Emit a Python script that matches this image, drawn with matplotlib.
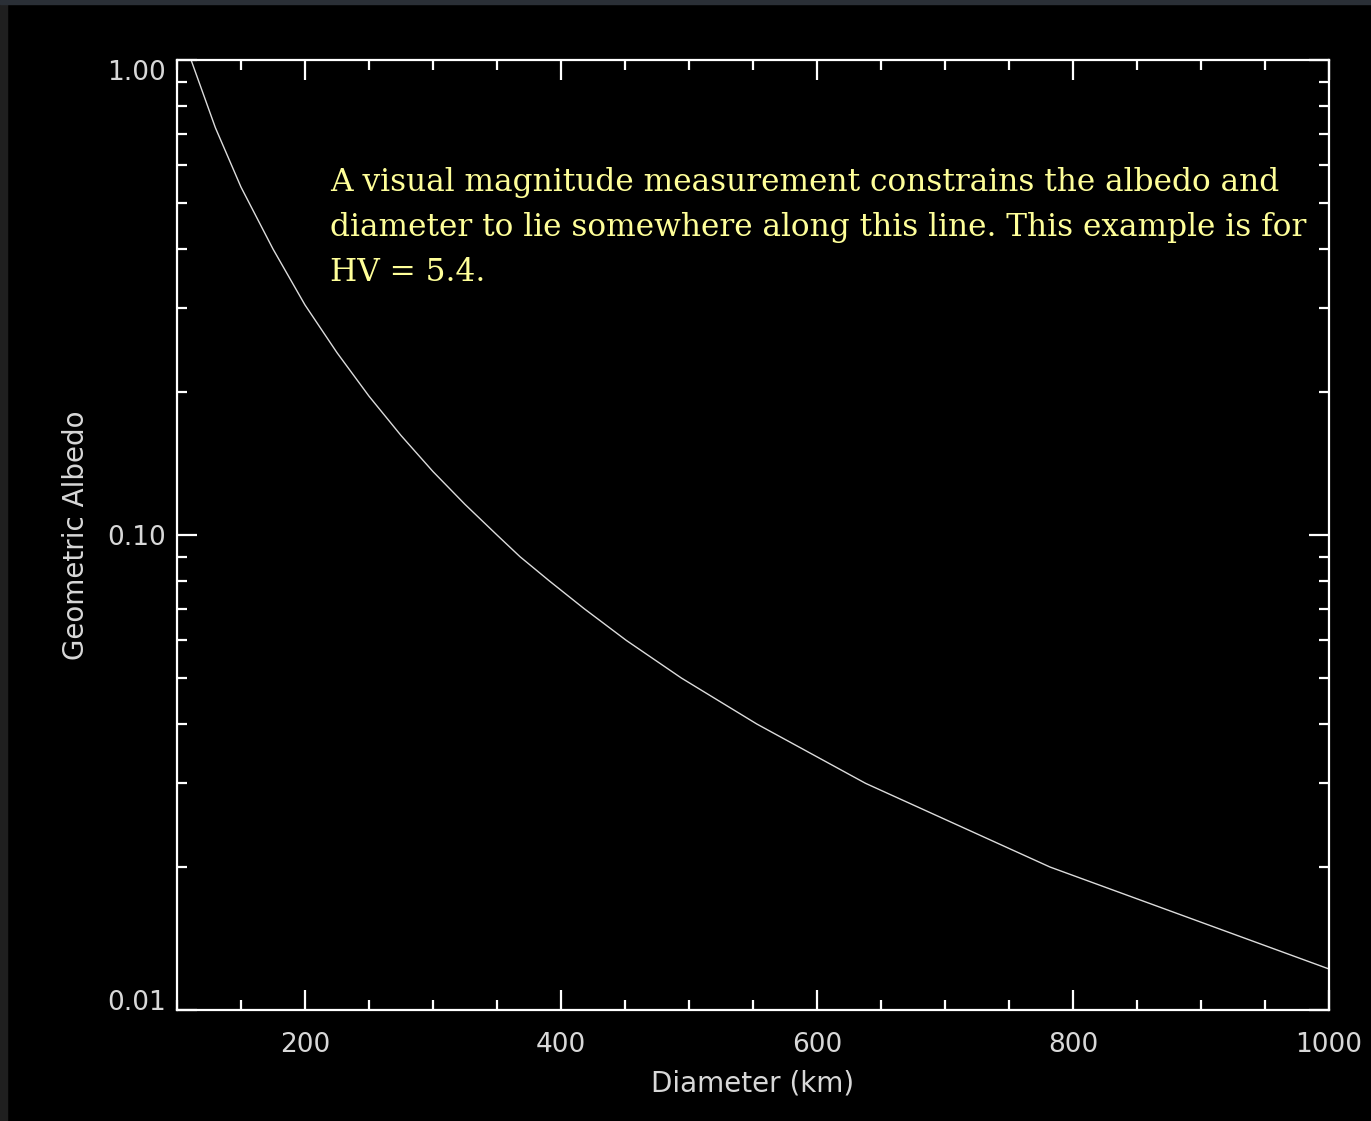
import matplotlib
matplotlib.use("Agg")
import matplotlib.pyplot as plt
from matplotlib.patches import Rectangle
from matplotlib.ticker import MultipleLocator, FixedLocator, NullFormatter

# values (diameter in km, geometric albedo)
diameter = [111, 130, 150, 175, 200, 225, 250, 275, 300, 325, 350,
            368, 391, 418, 451, 494, 553, 638, 782, 1000]
albedo = [1.00, 0.72, 0.54, 0.40, 0.305, 0.242, 0.196, 0.162, 0.136, 0.116, 0.100,
          0.090, 0.080, 0.070, 0.060, 0.050, 0.040, 0.030, 0.020, 0.0122]

x_ticks = [200, 400, 600, 800, 1000]
y_ticks = [0.01, 0.1, 1.0]
y_ticklabels = ["0.01", "0.10", "1.00"]

note = ("A visual magnitude measurement constrains the albedo and\n"
        "diameter to lie somewhere along this line. This example is for\n"
        "HV = 5.4.")

fg = "#d8d8d8"
fig = plt.figure(figsize=(13.71, 11.21), dpi=100, facecolor="black")
W, H = 1371, 1121
ax = fig.add_axes([177 / W, 1 - 1010 / H, (1329 - 177) / W, (1010 - 60) / H])
ax.set_facecolor("black")

# grey window edge on the left and top of the screenshot
fig.patches.append(Rectangle((0, 0), 7 / W, 1, transform=fig.transFigure,
                             color="#1f1f1f", zorder=-1))
fig.patches.append(Rectangle((0, 1 - 4 / H), 1, 4 / H, transform=fig.transFigure,
                             color="#2a2f36", zorder=-1))

ax.plot(diameter, albedo, color="#dcdcdc", lw=1.0)

ax.set_yscale("log")
ax.set_xlim(100, 1000)
ax.set_ylim(0.01, 1.0)

ax.xaxis.set_major_locator(FixedLocator(x_ticks))
ax.xaxis.set_minor_locator(MultipleLocator(50))
ax.set_xticklabels([str(v) for v in x_ticks])
ax.yaxis.set_major_locator(FixedLocator(y_ticks))
ax.set_yticklabels(y_ticklabels)
ax.yaxis.set_minor_locator(FixedLocator([m * 10.0 ** e for e in (-2, -1) for m in range(2, 10)]))
ax.yaxis.set_minor_formatter(NullFormatter())

for s in ax.spines.values():
    s.set_color("white")
    s.set_linewidth(1.6)

ax.tick_params(which="both", direction="in", colors="white", top=True, right=True,
               labelcolor=fg, labelsize=19)
ax.tick_params(which="major", length=14.5, width=1.6)
ax.tick_params(which="minor", length=7, width=1.6)
ax.tick_params(axis="x", pad=16)
ax.tick_params(axis="y", pad=8)

# IDL draws the end labels slightly inside the axis range
labels = ax.get_yticklabels()
labels[0].set_va("baseline")
labels[2].set_va("top")

ax.set_xlabel("Diameter (km)", color=fg, fontsize=20, labelpad=8)
ax.set_ylabel("Geometric Albedo", color=fg, fontsize=20, labelpad=12)

fig.text(330 / W, 1 - 167 / H, note, color="#ffff99", fontsize=22.5,
         family="DejaVu Serif", va="top", ha="left", linespacing=1.58)

fig.savefig("out.png", dpi=100, facecolor="black")
